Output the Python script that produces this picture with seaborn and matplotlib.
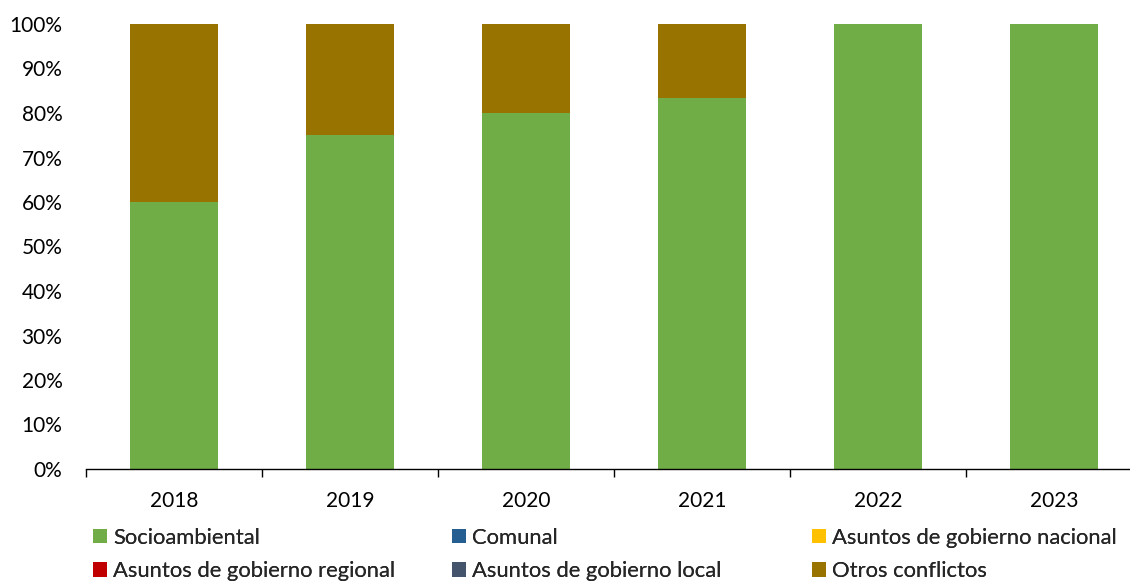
import matplotlib
matplotlib.use("Agg")
import matplotlib.pyplot as plt
from matplotlib.patches import Patch
from matplotlib.ticker import PercentFormatter, FixedLocator
import seaborn as sns
import numpy as np
import pandas as pd

# ---- data (percent share of conflicts per year) ----
years = ["2018", "2019", "2020", "2021", "2022", "2023"]
socioambiental = [60.0, 75.0, 80.0, 83.33, 100.0, 100.0]
comunal = [0, 0, 0, 0, 0, 0]
gobierno_nacional = [0, 0, 0, 0, 0, 0]
gobierno_regional = [0, 0, 0, 0, 0, 0]
gobierno_local = [0, 0, 0, 0, 0, 0]
otros = [40.0, 25.0, 20.0, 16.67, 0.0, 0.0]

series_names = ["Socioambiental", "Comunal", "Asuntos de gobierno nacional",
                "Asuntos de gobierno regional", "Asuntos de gobierno local",
                "Otros conflictos"]
series_values = [socioambiental, comunal, gobierno_nacional,
                 gobierno_regional, gobierno_local, otros]
colors = ["#70AD47", "#255E91", "#FFC000", "#C00000", "#44546A", "#997300"]

sns.set_theme(style="white")
plt.rcParams["font.family"] = ["Lato", "DejaVu Sans"]
FS = 15
LFS = 15.8

fig = plt.figure(figsize=(11.30, 5.84), dpi=100)
ax = fig.add_axes([86 / 1130, 1 - 469 / 584, 1056 / 1130, 445 / 584])

# stacked bars: draw cumulative totals from top series down
df = pd.DataFrame({n: v for n, v in zip(series_names, series_values)}, index=years)
cum = df.cumsum(axis=1) / 100.0
for name, col in reversed(list(zip(series_names, colors))):
    sns.barplot(x=years, y=cum[name].values, color=col, width=0.5,
                saturation=1, ax=ax, edgecolor="none", linewidth=0)

ax.set_ylim(0, 1)
ax.set_xlim(-0.5, len(years) - 0.5)
ax.yaxis.set_major_locator(FixedLocator(np.arange(0, 1.01, 0.1)))
ax.yaxis.set_major_formatter(PercentFormatter(xmax=1, decimals=0))
ax.set_xticks(range(len(years)))
ax.set_xticklabels(years)
ax.set_xticks(np.arange(-0.5, len(years), 1.0), minor=True)
ax.tick_params(axis="x", which="major", length=0, pad=16, labelsize=FS, colors="black")
ax.tick_params(axis="x", which="minor", length=6, width=1.0, color="black", bottom=True, direction="out")
ax.tick_params(axis="y", which="major", length=0, pad=17, labelsize=FS, colors="black")
for s in ["top", "right", "left"]:
    ax.spines[s].set_visible(False)
ax.spines["bottom"].set_color("black")
ax.spines["bottom"].set_linewidth(1.0)
ax.set_xlabel("")
ax.set_ylabel("")
ax.grid(False)

# legend: three columns placed at fixed x positions
handles = [Patch(facecolor=c, edgecolor="none") for c in colors]
col_x = [93, 452, 812]
groups = [[0, 3], [1, 4], [2, 5]]
for xpx, idx in zip(col_x, groups):
    leg = fig.legend([handles[i] for i in idx], [series_names[i] for i in idx],
                     loc="center left", bbox_to_anchor=(xpx / 1130, 1 - 554.5 / 584),
                     frameon=False, fontsize=LFS, borderpad=0, borderaxespad=0,
                     handlelength=0.63, handleheight=0.63, handletextpad=0.3,
                     labelspacing=0.6)
    fig.add_artist(leg)

fig.savefig("out.png", dpi=100)
